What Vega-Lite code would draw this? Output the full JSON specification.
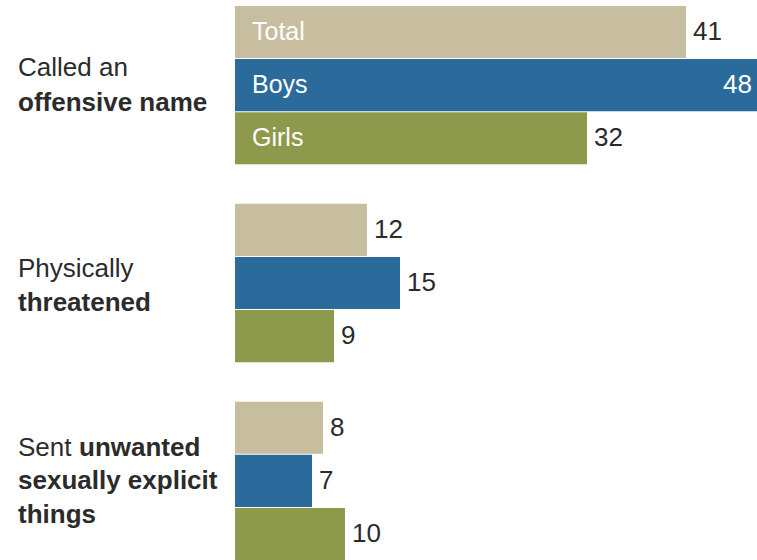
{
  "$schema": "https://vega.github.io/schema/vega-lite/v6.json",
  "width": 522,
  "height": 554,
  "autosize": {"type": "none"},
  "padding": {"left": 235, "top": 6, "right": 0, "bottom": 0},
  "background": "white",
  "config": {"view": {"stroke": null}, "text": {"font": "Liberation Sans"}},
  "datasets": {
    "bars": [
      {"cat": "Called an offensive name", "group": "Total", "value": 41},
      {"cat": "Called an offensive name", "group": "Boys", "value": 48},
      {"cat": "Called an offensive name", "group": "Girls", "value": 32},
      {"cat": "Physically threatened", "group": "Total", "value": 12},
      {"cat": "Physically threatened", "group": "Boys", "value": 15},
      {"cat": "Physically threatened", "group": "Girls", "value": 9},
      {"cat": "Sent unwanted sexually explicit things", "group": "Total", "value": 8},
      {"cat": "Sent unwanted sexually explicit things", "group": "Boys", "value": 7},
      {"cat": "Sent unwanted sexually explicit things", "group": "Girls", "value": 10}
    ],
    "called": [{"cat": "Called an offensive name", "t": "Called an"}],
    "offensive": [{"cat": "Called an offensive name", "t": "offensive name"}],
    "physically": [{"cat": "Physically threatened", "t": "Physically"}],
    "threatened": [{"cat": "Physically threatened", "t": "threatened"}],
    "sent": [{"cat": "Sent unwanted sexually explicit things", "t": "Sent"}],
    "unwanted": [{"cat": "Sent unwanted sexually explicit things", "t": "unwanted"}],
    "sexually": [{"cat": "Sent unwanted sexually explicit things", "t": "sexually explicit"}],
    "things": [{"cat": "Sent unwanted sexually explicit things", "t": "things"}]
  },
  "data": {"name": "bars"},
  "encoding": {
    "y": {
      "field": "cat",
      "type": "nominal",
      "axis": null,
      "scale": {
        "domain": ["Called an offensive name", "Physically threatened", "Sent unwanted sexually explicit things"],
        "paddingInner": 0.2,
        "paddingOuter": 0
      }
    }
  },
  "layer": [
    {
      "mark": {"type": "bar"},
      "encoding": {
        "x": {"field": "value", "type": "quantitative", "axis": null, "scale": {"domain": [0, 47.4545], "clamp": true, "nice": false}},
        "yOffset": {"field": "group", "type": "nominal", "sort": ["Total", "Boys", "Girls"], "scale": {"paddingInner": 0.02, "paddingOuter": 0}},
        "color": {
          "field": "group",
          "type": "nominal",
          "legend": null,
          "scale": {"domain": ["Total", "Boys", "Girls"], "range": ["#c7bd9f", "#2b6b9b", "#8e9a4b"]}
        }
      }
    },
    {
      "transform": [{"filter": "datum.cat == 'Called an offensive name'"}],
      "mark": {"type": "text", "align": "left", "baseline": "middle", "dx": 17, "fontSize": 25, "color": "white"},
      "encoding": {
        "x": {"datum": 0},
        "yOffset": {"field": "group", "type": "nominal", "sort": ["Total", "Boys", "Girls"]},
        "text": {"field": "group", "type": "nominal"}
      }
    },
    {
      "transform": [{"filter": "datum.value < 45"}],
      "mark": {"type": "text", "align": "left", "baseline": "middle", "dx": 7, "fontSize": 26, "color": "#2b2b2b"},
      "encoding": {
        "x": {"field": "value", "type": "quantitative"},
        "yOffset": {"field": "group", "type": "nominal", "sort": ["Total", "Boys", "Girls"]},
        "text": {"field": "value", "type": "quantitative"}
      }
    },
    {
      "transform": [{"filter": "datum.value >= 45"}],
      "mark": {"type": "text", "align": "right", "baseline": "middle", "dx": -5, "fontSize": 26, "color": "white"},
      "encoding": {
        "x": {"field": "value", "type": "quantitative"},
        "yOffset": {"field": "group", "type": "nominal", "sort": ["Total", "Boys", "Girls"]},
        "text": {"field": "value", "type": "quantitative"}
      }
    },
    {
      "data": {"name": "called"},
      "mark": {"type": "text", "align": "left", "baseline": "middle", "dx": -217, "dy": -17, "fontSize": 26, "color": "#2b2b2b"},
      "encoding": {"x": {"datum": 0}, "text": {"field": "t", "type": "nominal"}}
    },
    {
      "data": {"name": "offensive"},
      "mark": {"type": "text", "align": "left", "baseline": "middle", "dx": -217, "dy": 18, "fontSize": 26, "fontWeight": "bold", "color": "#2b2b2b"},
      "encoding": {"x": {"datum": 0}, "text": {"field": "t", "type": "nominal"}}
    },
    {
      "data": {"name": "physically"},
      "mark": {"type": "text", "align": "left", "baseline": "middle", "dx": -217, "dy": -14, "fontSize": 26, "color": "#2b2b2b"},
      "encoding": {"x": {"datum": 0}, "text": {"field": "t", "type": "nominal"}}
    },
    {
      "data": {"name": "threatened"},
      "mark": {"type": "text", "align": "left", "baseline": "middle", "dx": -217, "dy": 20, "fontSize": 26, "fontWeight": "bold", "color": "#2b2b2b"},
      "encoding": {"x": {"datum": 0}, "text": {"field": "t", "type": "nominal"}}
    },
    {
      "data": {"name": "sent"},
      "mark": {"type": "text", "align": "left", "baseline": "middle", "dx": -217, "dy": -33, "fontSize": 26, "color": "#2b2b2b"},
      "encoding": {"x": {"datum": 0}, "text": {"field": "t", "type": "nominal"}}
    },
    {
      "data": {"name": "unwanted"},
      "mark": {"type": "text", "align": "left", "baseline": "middle", "dx": -156, "dy": -33, "fontSize": 26, "fontWeight": "bold", "color": "#2b2b2b"},
      "encoding": {"x": {"datum": 0}, "text": {"field": "t", "type": "nominal"}}
    },
    {
      "data": {"name": "sexually"},
      "mark": {"type": "text", "align": "left", "baseline": "middle", "dx": -217, "dy": 0, "fontSize": 26, "fontWeight": "bold", "color": "#2b2b2b"},
      "encoding": {"x": {"datum": 0}, "text": {"field": "t", "type": "nominal"}}
    },
    {
      "data": {"name": "things"},
      "mark": {"type": "text", "align": "left", "baseline": "middle", "dx": -217, "dy": 34, "fontSize": 26, "fontWeight": "bold", "color": "#2b2b2b"},
      "encoding": {"x": {"datum": 0}, "text": {"field": "t", "type": "nominal"}}
    }
  ]
}
